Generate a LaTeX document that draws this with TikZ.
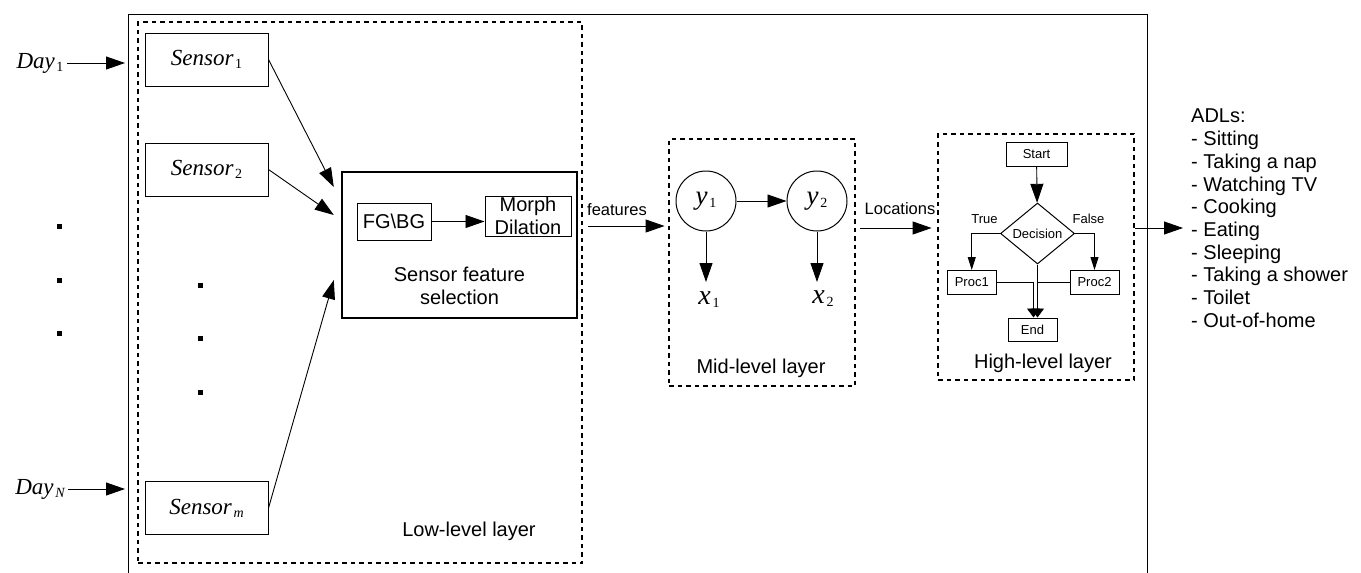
\documentclass[tikz,border=0pt]{standalone}
\usepackage{fontspec}
\setmainfont{Liberation Sans}
\newfontfamily\serifit{Liberation Serif}
\usetikzlibrary{calc}
\usetikzlibrary{positioning}
\usetikzlibrary{arrows.meta}
\usetikzlibrary{shapes.geometric}

\newcommand{\varlabel}[3][23]{{\fontsize{#1}{#1}\serifit\itshape #2}\,\raisebox{-0.3em}{\fontsize{14}{14}\serifit #3}}

\begin{document}
\begin{tikzpicture}[x=1pt, y=-1pt,
  box/.style={draw, line width=1pt, inner sep=0pt},
  layerbox/.style={draw, line width=2.8pt, dash pattern=on 4.5pt off 4pt, inner sep=0pt},
  flow/.style={line width=0.9pt, -{Triangle[length=19pt,width=13pt]}},
  thinflow/.style={line width=0.9pt, -{Triangle[length=13pt,width=8pt]}},
  endflow/.style={line width=0.9pt, -{Triangle[length=9pt,width=13pt]}},
  dotmark/.style={fill, minimum size=5pt, inner sep=0pt},
  smalltext/.style={font=\fontsize{13}{15}\selectfont},
  bigtext/.style={font=\fontsize{20}{22.7}\selectfont, align=center}]
\useasboundingbox (0,0) rectangle (1361,573);

% outer frame
\coordinate (frameNW) at (128,14);
\coordinate (frameNE) at (1147,14);
\draw [line width=0.8pt] (128,573) -- (frameNW) -- (frameNE) -- (1147,573);

% low-level layer
\node (low) [layerbox, minimum width=444pt, minimum height=541pt] at (360,292.5) {};
\node (s1) [box, minimum width=123pt, minimum height=53pt] at (206.5,59.5) {\varlabel{Sensor}{1}};
\node (s2) [box, minimum width=123pt, minimum height=53pt] at (206.5,169.5) {\varlabel{Sensor}{2}};
\node (sm) [box, minimum width=123pt, minimum height=53pt] at (206.5,508) {\varlabel{Sensor}{\itshape m}};
\node (day1) at (40,63) {\varlabel{Day}{1}};
\node (dayN) at (40,489) {\varlabel{Day}{\itshape N}};
\foreach \y in {226,280,333} \node (ldot\y) [dotmark] at (59.5,\y) {};
\foreach \y in {285,338,392} \node (mdot\y) [dotmark] at (200.3,\y) {};

\node (sfs) [draw, line width=2.4pt, minimum width=235pt, minimum height=146pt] at (459.5,245) {};
\node (sfstext) [bigtext] at (459.5,286) {Sensor feature\\selection};
\node (fg) [box, bigtext, inner sep=1pt, minimum width=74pt, minimum height=37pt] at (394,221.5) {FG\textbackslash BG};
\node (morph) [box, bigtext, inner sep=1pt, minimum width=86pt, minimum height=40pt] at (528,216) {Morph\\Dilation};
\node (lowlabel) [bigtext] at (469,531) {Low-level layer};

\draw [flow, shorten >=3pt] (day1.east) -- (day1.east -| frameNW);
\draw [flow, shorten >=3pt] (dayN.east) -- (dayN.east -| frameNW);
\draw [flow] (s1.east) -- ([shift={(-7,-58)}]sfs.west);
\draw [flow] (s2.east) -- ([shift={(-7,-30)}]sfs.west);
\draw [flow] (sm.east) -- ([shift={(-7,35)}]sfs.west);
\draw [flow] (fg.east) -- (fg.east -| morph.west);

% mid-level layer
\node (mid) [layerbox, minimum width=186pt, minimum height=247pt] at (762,262.5) {};
\node (y1) [circle, draw, line width=1pt, minimum size=60pt, inner sep=0pt] at (706,201) {\varlabel[27]{y}{1}};
\node (y2) [circle, draw, line width=1pt, minimum size=60pt, inner sep=0pt] at (817,201) {\varlabel[27]{y}{2}};
\node (x1) [inner sep=0pt, anchor=north] at (709,291) {\varlabel[28]{x}{1}};
\node (x2) [inner sep=0pt, anchor=north] at (823,290) {\varlabel[28]{x}{2}};
\node (midlabel) [bigtext] at (761,368) {Mid-level layer};
\draw [flow] (y1) -- (y2);
\draw [flow, shorten >=9pt] (y1.south) -- (y1.south |- x1.north);
\draw [flow, shorten >=8pt] (y2.south) -- (y2.south |- x2.north);

\node (feat) [font=\fontsize{16.5}{18}\selectfont] at (617,210) {features};
\draw [flow, shorten <=5pt, shorten >=3pt] (low.east |- 0,226) -- (mid.west |- 0,226);

% high-level layer
\node (high) [layerbox, minimum width=196pt, minimum height=246pt] at (1036,257) {};
\node (start) [box, smalltext, minimum width=61pt, minimum height=24pt] at (1036.5,154) {Start};
\node (dec) [diamond, draw, line width=1pt, smalltext, inner sep=0pt, minimum width=74pt, minimum height=61pt] at (1037.5,233.5) {Decision};
\node (proc1) [box, smalltext, minimum width=49pt, minimum height=24pt] at (971.75,282.5) {Proc1};
\node (proc2) [box, smalltext, minimum width=49pt, minimum height=24pt] at (1094.5,282.5) {Proc2};
\node (end) [box, smalltext, minimum width=49pt, minimum height=23pt] at (1032.5,329.5) {End};
\node (truelabel) [smalltext] at (984.5,219) {True};
\node (falselabel) [smalltext] at (1088.5,219) {False};
\node (highlabel) [bigtext] at (1043,363) {High-level layer};
\draw [flow] (start) -- (dec);
\draw [thinflow] (dec.west) -| (proc1.north);
\draw [thinflow] (dec.east) -| (proc2.north);
\draw [endflow] (proc1.east) -| ($(end.north -| dec.south)+(-4,0)$);
\draw [endflow] (dec.south) -- (dec.south |- end.north);
\draw [line width=0.9pt] (proc2.west) -- (proc2.west -| dec.south);

\node (loc) [font=\fontsize{16.5}{18}\selectfont] at (900,209) {Locations};
\draw [flow, shorten <=4pt, shorten >=5pt] (mid.east |- 0,228) -- (high.west |- 0,228);

% ADLs
\node (adl) [bigtext, align=left, anchor=north west, inner sep=0pt] at (1191,109) {ADLs:\\- Sitting\\- Taking a nap\\- Watching TV\\- Cooking\\- Eating\\- Sleeping\\- Taking a shower\\- Toilet\\- Out-of-home};
\draw [flow, shorten >=8pt] (high.east |- 0,228) -- (adl.west |- 0,228);

\end{tikzpicture}
\end{document}
